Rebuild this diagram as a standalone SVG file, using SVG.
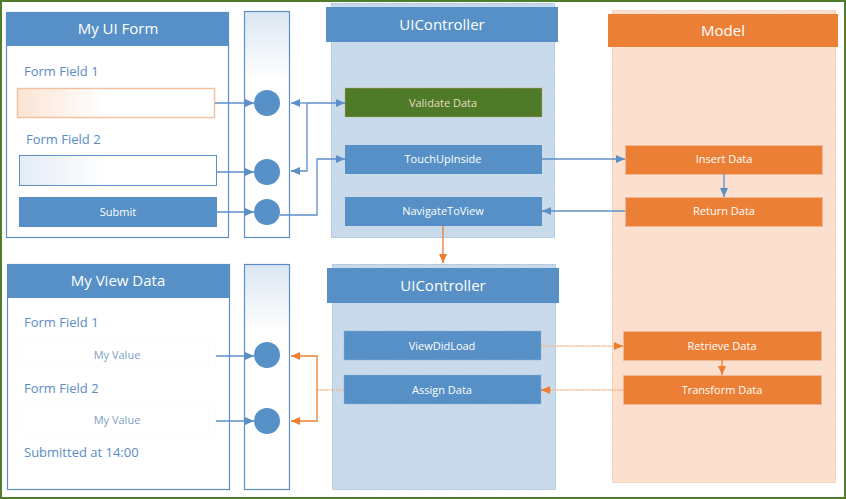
<svg xmlns="http://www.w3.org/2000/svg" width="846" height="499" viewBox="0 0 846 499">
<defs>
<style>
.hdr{fill:#5690c6}
.hdrO{fill:#ec7f36}
.t-hdr{font-family:"Open Sans","Liberation Sans",sans-serif;font-size:15px;fill:#ffffff;text-anchor:middle}
.t-lbl{font-family:"Open Sans","Liberation Sans",sans-serif;font-size:13px;fill:#5b8cc3}
.t-val{font-family:"Open Sans","Liberation Sans",sans-serif;font-size:11px;fill:#7d9fc6;text-anchor:middle}
.t-btn{font-family:"Open Sans","Liberation Sans",sans-serif;font-size:11px;fill:#ffffff;text-anchor:middle}
.btn{fill:#5690c6}
.btnO{fill:#ec7f36;stroke:#f2b690;stroke-width:1}
.panel{fill:#ffffff;stroke:#5b8fc6;stroke-width:1.2}
.col{fill:url(#colGrad);stroke:#5b8fc6;stroke-width:1.2}
.dot{fill:#5690c6}
.ctl{fill:#c9dbea;stroke:#9fbcd8;stroke-width:1;stroke-dasharray:2 1}
.mdl{fill:#fbe0d0;stroke:#f3c7aa;stroke-width:1;stroke-dasharray:2 1}
.cb{fill:none;stroke:#5b8fc6;stroke-width:1.3}
.co{fill:none;stroke:#ed7d31;stroke-width:1.3}
.col2{fill:none;stroke:#f2b48c;stroke-width:1.6;stroke-dasharray:1.5 0.8}
.vbox{fill:none;stroke:#e8eef5;stroke-width:0.8;stroke-dasharray:1 3}
</style>
<linearGradient id="colGrad" x1="0" y1="0" x2="0" y2="1">
<stop offset="0" stop-color="#dbe6f2"/>
<stop offset="0.3" stop-color="#ffffff"/>
<stop offset="1" stop-color="#ffffff"/>
</linearGradient>
<linearGradient id="f1Grad" x1="0" y1="0" x2="1" y2="0">
<stop offset="0" stop-color="#fbe4d4"/>
<stop offset="0.45" stop-color="#ffffff"/>
</linearGradient>
<linearGradient id="f2Grad" x1="0" y1="0" x2="1" y2="0">
<stop offset="0" stop-color="#e4ecf6"/>
<stop offset="0.45" stop-color="#ffffff"/>
</linearGradient>
<marker id="ab" markerUnits="userSpaceOnUse" markerWidth="10" markerHeight="10" refX="9" refY="4" orient="auto">
<path d="M0,0 L9,4 L0,8 z" fill="#5b8fc6"/>
</marker>
<marker id="ao" markerUnits="userSpaceOnUse" markerWidth="10" markerHeight="10" refX="9" refY="4" orient="auto">
<path d="M0,0 L9,4 L0,8 z" fill="#ed7d31"/>
</marker>
</defs>

<rect x="0" y="0" width="846" height="499" fill="#ffffff"/>
<rect x="1" y="1" width="844" height="497" fill="none" stroke="#507d2a" stroke-width="2"/>

<g id="ui-form">
<rect class="panel" x="6.5" y="12.5" width="222" height="225"/>
<rect class="hdr" x="6" y="12" width="223" height="34"/>
<text class="t-hdr" x="118" y="34">My UI Form</text>
<text class="t-lbl" x="24" y="76">Form Field 1</text>
<rect x="17.5" y="88.5" width="197" height="29" fill="url(#f1Grad)" stroke="#f0c2a2" stroke-width="1.5"/>
<text class="t-lbl" x="26" y="144">Form Field 2</text>
<rect x="19.5" y="155.5" width="197" height="30" fill="url(#f2Grad)" stroke="#5b8fc6" stroke-width="1"/>
<rect class="btn" x="19" y="197" width="198" height="30"/>
<text class="t-btn" x="118" y="216">Submit</text>
</g>

<g id="col-top">
<rect class="col" x="244.5" y="11.5" width="45" height="226"/>
<circle class="dot" cx="267" cy="103" r="13"/>
<circle class="dot" cx="267" cy="172" r="13"/>
<circle class="dot" cx="267" cy="212" r="13"/>
</g>

<g id="uicontroller-top">
<rect class="ctl" x="331.5" y="3.5" width="223" height="234"/>
<rect class="hdr" x="326" y="7" width="232" height="35"/>
<text class="t-hdr" x="442" y="30">UIController</text>
</g>
<g id="validate-data">
<rect x="345" y="88" width="197" height="29" fill="#4f7a28" stroke="#c9a77a" stroke-width="0.8" stroke-dasharray="1.5 1"/>
<text class="t-btn" x="443" y="107" style="fill:#e8dcc2">Validate Data</text>
</g>
<g id="touchupinside">
<rect class="btn" x="345" y="145" width="197" height="29"/>
<text class="t-btn" x="443" y="163">TouchUpInside</text>
</g>
<g id="navigatetoview">
<rect class="btn" x="345" y="197" width="197" height="29"/>
<text class="t-btn" x="443" y="215">NavigateToView</text>
</g>

<g id="model">
<rect class="mdl" x="612.5" y="10.5" width="223" height="472"/>
<rect class="hdrO" x="608" y="14" width="230" height="33"/>
<text class="t-hdr" x="723" y="36">Model</text>
</g>
<g id="insert-data">
<rect class="btnO" x="625.5" y="145.5" width="197" height="29"/>
<text class="t-btn" x="724" y="163">Insert Data</text>
</g>
<g id="return-data">
<rect class="btnO" x="625.5" y="197.5" width="197" height="29"/>
<text class="t-btn" x="724" y="215">Return Data</text>
</g>

<g id="view-data">
<rect class="panel" x="7.5" y="264.5" width="222" height="225"/>
<rect class="hdr" x="7" y="264" width="223" height="34"/>
<text class="t-hdr" x="118" y="286">My View Data</text>
<text class="t-lbl" x="24" y="327">Form Field 1</text>
<rect class="vbox" x="18.5" y="342.5" width="197" height="25"/>
<text class="t-val" x="117" y="359">My Value</text>
<text class="t-lbl" x="24" y="393">Form Field 2</text>
<rect class="vbox" x="18.5" y="407.5" width="197" height="25"/>
<text class="t-val" x="117" y="424">My Value</text>
<text class="t-lbl" x="24" y="457">Submitted at 14:00</text>
</g>

<g id="col-bottom">
<rect class="col" x="244.5" y="264.5" width="45" height="225"/>
<circle class="dot" cx="267" cy="355" r="13"/>
<circle class="dot" cx="267" cy="421" r="13"/>
</g>

<g id="uicontroller-bottom">
<rect class="ctl" x="332.5" y="264.5" width="223" height="225"/>
<rect class="hdr" x="327" y="268" width="232" height="35"/>
<text class="t-hdr" x="443" y="291">UIController</text>
</g>
<g id="viewdidload">
<rect class="btn" x="344" y="331" width="197" height="29" stroke="#8fb0d3" stroke-width="0.8" stroke-dasharray="1.5 1"/>
<text class="t-btn" x="442" y="350">ViewDidLoad</text>
</g>
<g id="assign-data">
<rect class="btn" x="344" y="375" width="197" height="29" stroke="#8fb0d3" stroke-width="0.8" stroke-dasharray="1.5 1"/>
<text class="t-btn" x="442" y="394">Assign Data</text>
</g>
<g id="retrieve-data">
<rect class="btnO" x="623.5" y="331.5" width="198" height="29"/>
<text class="t-btn" x="722" y="350">Retrieve Data</text>
</g>
<g id="transform-data">
<rect class="btnO" x="623.5" y="375.5" width="198" height="29"/>
<text class="t-btn" x="722" y="394">Transform Data</text>
</g>

<g id="connectors">
<path class="cb" d="M215,103 H254" marker-end="url(#ab)"/>
<path class="cb" d="M217,172 H254" marker-end="url(#ab)"/>
<path class="cb" d="M217,212 H254" marker-end="url(#ab)"/>
<path class="cb" d="M307,103 H345" marker-end="url(#ab)"/>
<path class="cb" d="M307,103 H291" marker-end="url(#ab)"/>
<path class="cb" d="M307,103 V171 H291" marker-end="url(#ab)"/>
<path class="cb" d="M280,215 H317 V159 H345" marker-end="url(#ab)"/>
<path class="cb" d="M542,159 H625" marker-end="url(#ab)"/>
<path class="cb" d="M625,211 H542" marker-end="url(#ab)"/>
<path class="cb" d="M724,174 V197" marker-end="url(#ab)"/>
<path class="co" d="M443,226 V263" marker-end="url(#ao)"/>
<path class="cb" d="M216,356 H254" marker-end="url(#ab)"/>
<path class="cb" d="M216,421 H254" marker-end="url(#ab)"/>
<path class="col2" d="M344,390 H317"/>
<path class="co" d="M317,390 V356 H291" marker-end="url(#ao)"/>
<path class="co" d="M317,390 V421 H291" marker-end="url(#ao)"/>
<path class="col2" d="M541,346 H615"/>
<path class="co" d="M614,346 H623" marker-end="url(#ao)"/>
<path class="col2" d="M623,390 H550"/>
<path class="co" d="M551,390 H541" marker-end="url(#ao)"/>
<path class="co" d="M722,360 V375" marker-end="url(#ao)"/>
</g>
</svg>
